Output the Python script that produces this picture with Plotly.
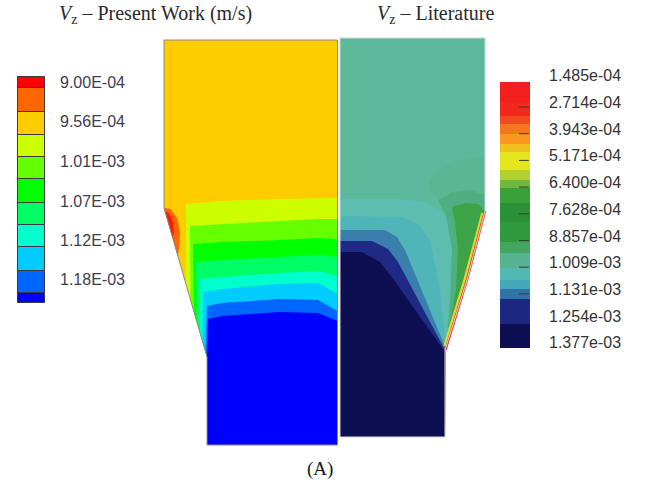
import plotly.graph_objects as go

# ---------------- data (figure pixel units) ----------------
# Left legend (Present Work)
pw_legend_tops = [76.7, 88.3, 111.7, 135, 156.7, 179.3, 203.3, 225, 247.3, 270.7, 292.7]
pw_legend_bottom = 303.3
pw_legend_colors = ['#FF0000', '#FF6600', '#FFCC00', '#CCFF00', '#66FF00', '#00FF00',
                    '#00FF66', '#00FFCC', '#00CCFF', '#0066FF', '#0000FF']
pw_tick_labels = ['9.00E-04', '9.56E-04', '1.01E-03', '1.07E-03', '1.12E-03', '1.18E-03']
pw_tick_pos = [84, 123, 163, 203, 242, 281]

# Right legend (Literature)
lit_legend_bounds = [82, 101.6, 116.3, 124.4, 134.2, 144.0, 152.2, 170.1, 179.9, 188.1,
                     202.8, 222.4, 242.0, 253.4, 268.0, 279.5, 289.3, 299.1, 323.6, 348]
lit_legend_colors = ['#F41E1E', '#F0281E', '#F04A1E', '#F5761E', '#F7981C', '#F2C01E',
                     '#E6E61E', '#B2D132', '#6FB83E', '#3AA03A', '#2A9236', '#2F9A3C',
                     '#42A660', '#55B392', '#52B9B2', '#45A8BA', '#2F74A6', '#1B2780', '#0E0E52']
lit_tick_labels = ['1.485e-04', '2.714e-04', '3.943e-04', '5.171e-04', '6.400e-04', '7.628e-04',
                   '8.857e-04', '1.009e-03', '1.131e-03', '1.254e-03', '1.377e-03']
lit_tick_pos = [77.3, 104, 130.7, 157.4, 184.1, 210.8, 237.5, 264.2, 290.9, 317.6, 344.3]

# Present Work contour geometry
pw_outline_x = [164, 337.5, 337.5, 207, 207, 164]
pw_outline_y = [40, 40, 445, 445, 357, 208]
pw_base_color = '#FFCC00'
pw_band_colors = ['#CCFF00', '#66FF00', '#00FF00', '#00FF66', '#00FFCC', '#00CCFF', '#0066FF', '#0000FF']
pw_band_left_x = [186, 190, 193, 196, 199, 203, 207, 208]
pw_band_left_y = [204, 226, 244, 262, 279, 292, 306, 319]
pw_band_prof_x = [222, 280, 318, 337.5]
pw_band_prof_y = [[201, 199, 198, 198], [224, 221, 219, 219], [242, 240, 238, 239],
                  [260, 257, 255, 257], [277, 273, 271, 276], [289, 284, 283, 294],
                  [303, 299, 300, 311], [316, 312, 313, 321]]
pw_band_wall_x = [186.2, 190.6, 194.0, 196.9, 199.8, 202.7, 205.6, 207]
pw_band_wall_y = [285, 300, 312, 322, 332, 342, 352, 357]
pw_hot_orange_x = [164, 171, 177, 180, 179, 177.8]
pw_hot_orange_y = [208, 209, 218, 232, 248, 256]
pw_hot_red_x = [164.8, 169, 173, 174, 172.7]
pw_hot_red_y = [211, 213, 222, 232, 238]

# Literature contour geometry
lit_outline_x = [340, 485, 485, 467, 445, 445, 340]
lit_outline_y = [38, 38, 211, 280, 350, 437, 437]
lit_base_color = '#5DB99B'
lit_regions = [
    ([428, 436, 455, 485, 485, 470, 456, 440, 430], [185, 170, 160, 156, 211, 222, 208, 198, 192], '#5AB794'),
    ([340, 400, 425, 440, 452, 455, 450, 446, 445, 340], [199, 199, 202, 210, 222, 260, 310, 348, 437, 437], '#5CBDB0'),
    ([340, 402, 418, 430, 440, 446, 445, 340], [216, 217, 224, 240, 290, 348, 437, 437], '#4FB5B8'),
    ([340, 385, 397, 405, 446, 445, 340], [230, 230, 237, 250, 349, 437, 437], '#3A7EAE'),
    ([340, 372, 388, 398, 445, 445, 340], [241, 241, 249, 262, 350, 437, 437], '#1E2A85'),
    ([340, 362, 380, 394, 445, 445, 340], [252, 252, 262, 280, 352, 437, 437], '#0E0E52'),
    ([438, 452, 470, 485, 485, 467, 446, 450, 452, 446], [200, 192, 190, 195, 211, 280, 348, 300, 250, 215], '#4FAF80'),
    ([452, 465, 478, 485, 467, 446, 449, 456, 458, 455], [207, 203, 204, 211, 280, 348, 330, 290, 250, 222], '#3DA347'),
]
lit_edge_red_x = [485, 467, 445.5]
lit_edge_red_y = [211, 280, 350]
lit_edge_yellow_x = [482.5, 464.5, 444.5]
lit_edge_yellow_y = [213, 280, 346]

titles = ['<i>V</i><sub>z</sub> – Present Work (m/s)', '<i>V</i><sub>z</sub> – Literature']
title_x = [155, 435]
caption = '(A)'

# ---------------- figure ----------------
fig = go.Figure()


def poly(xs, ys, color, line_color=None, line_width=0):
    fig.add_trace(go.Scatter(
        x=list(xs) + [xs[0]], y=list(ys) + [ys[0]], mode='lines', fill='toself',
        fillcolor=color, line=dict(color=line_color or color, width=line_width),
        hoverinfo='skip', showlegend=False))


# Present Work panel
poly(pw_outline_x, pw_outline_y, pw_base_color)
for i, c in enumerate(pw_band_colors):
    xs = [pw_band_left_x[i]] + pw_band_prof_x + [337.5, 207, 207, pw_band_wall_x[i]]
    ys = [pw_band_left_y[i]] + pw_band_prof_y[i] + [445, 445, 357, pw_band_wall_y[i]]
    poly(xs, ys, c)
poly(pw_hot_orange_x, pw_hot_orange_y, '#FF6600')
poly(pw_hot_red_x, pw_hot_red_y, '#FF1A00')
fig.add_trace(go.Scatter(x=pw_outline_x + [pw_outline_x[0]], y=pw_outline_y + [pw_outline_y[0]],
                         mode='lines', line=dict(color='#8a8a8a', width=1), hoverinfo='skip', showlegend=False))

# Literature panel
poly(lit_outline_x, lit_outline_y, lit_base_color)
for xs, ys, c in lit_regions:
    poly(xs, ys, c)
fig.add_trace(go.Scatter(x=lit_edge_yellow_x, y=lit_edge_yellow_y, mode='lines',
                         line=dict(color='#E2D430', width=2.5), hoverinfo='skip', showlegend=False))
fig.add_trace(go.Scatter(x=lit_edge_red_x, y=lit_edge_red_y, mode='lines',
                         line=dict(color='#F0462A', width=2.5), hoverinfo='skip', showlegend=False))
fig.add_trace(go.Scatter(x=lit_outline_x + [lit_outline_x[0]], y=lit_outline_y + [lit_outline_y[0]],
                         mode='lines', line=dict(color='#cfd8d4', width=1), hoverinfo='skip', showlegend=False))

# Left legend bar
pw_heights = [b - a for a, b in zip(pw_legend_tops, pw_legend_tops[1:] + [pw_legend_bottom])]
fig.add_trace(go.Bar(x=[31.5] * len(pw_heights), y=pw_heights, base=pw_legend_tops, width=27,
                     marker=dict(color=pw_legend_colors, line=dict(color='#3a3a3a', width=1)),
                     hoverinfo='skip', showlegend=False))
fig.add_trace(go.Scatter(x=[60] * len(pw_tick_labels), y=pw_tick_pos, mode='text', text=pw_tick_labels,
                         textposition='middle right',
                         textfont=dict(family='Liberation Sans', size=16, color='#3d3d52'),
                         hoverinfo='skip', showlegend=False))

# Right legend bar
lit_heights = [b - a for a, b in zip(lit_legend_bounds[:-1], lit_legend_bounds[1:])]
fig.add_trace(go.Bar(x=[515] * len(lit_heights), y=lit_heights, base=lit_legend_bounds[:-1], width=30,
                     marker=dict(color=lit_legend_colors, line=dict(width=0)),
                     hoverinfo='skip', showlegend=False))
fig.add_trace(go.Scatter(x=[524] * 8, y=[p + 3 for p in lit_tick_pos[1:9]], mode='markers',
                         marker=dict(symbol='line-ew', size=7, line=dict(color='#3a3a3a', width=1)),
                         hoverinfo='skip', showlegend=False))
fig.add_trace(go.Scatter(x=[549] * len(lit_tick_labels), y=lit_tick_pos, mode='text', text=lit_tick_labels,
                         textposition='middle right',
                         textfont=dict(family='Liberation Sans', size=16, color='#333333'),
                         hoverinfo='skip', showlegend=False))

annotations = []
for t, x in zip(titles, title_x):
    annotations.append(dict(x=x, y=14, xref='x', yref='y', text=t, showarrow=False,
                            font=dict(family='Liberation Serif', size=20, color='#2a2a2a'),
                            xanchor='center', yanchor='middle'))
annotations.append(dict(x=320, y=469, xref='x', yref='y', text=caption, showarrow=False,
                        font=dict(family='Liberation Serif', size=19, color='#1a1a1a'),
                        xanchor='center', yanchor='middle'))

fig.update_layout(
    width=645, height=484, margin=dict(l=0, r=0, t=0, b=0),
    paper_bgcolor='white', plot_bgcolor='white', barmode='overlay', bargap=0,
    xaxis=dict(range=[0, 645], visible=False, fixedrange=True),
    yaxis=dict(range=[484, 0], visible=False, fixedrange=True),
    annotations=annotations, showlegend=False, hovermode=False,
)

fig.write_html('out.html', config={'displayModeBar': False},
               post_script="document.body.style.margin='0';")
